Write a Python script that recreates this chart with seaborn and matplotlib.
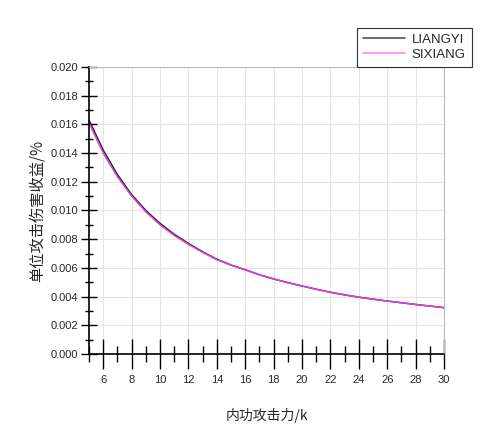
import numpy as np
import pandas as pd
import matplotlib
matplotlib.use('Agg')
import matplotlib.pyplot as plt
from matplotlib.ticker import MultipleLocator, FormatStrFormatter
import seaborn as sns


# values
attack = list(range(5, 31))
liangyi = [0.01630, 0.01420, 0.01250, 0.01110, 0.01000, 0.00910, 0.00834, 0.00770, 0.00712,
           0.00660, 0.00620, 0.00587, 0.00552, 0.00523, 0.00497, 0.00474, 0.00451, 0.00430,
           0.00412, 0.00396, 0.00382, 0.00369, 0.00357, 0.00345, 0.00334, 0.00323]
sixiang = [0.01610, 0.01400, 0.01235, 0.01100, 0.00990, 0.00900, 0.00826, 0.00764, 0.00708,
           0.00657, 0.00619, 0.00586, 0.00552, 0.00523, 0.00497, 0.00474, 0.00451, 0.00430,
           0.00412, 0.00396, 0.00382, 0.00369, 0.00357, 0.00345, 0.00334, 0.00323]
names = ['LIANGYI', 'SIXIANG']
colors = ['#222222', '#e040e0']

XLABEL = '内功攻击力/k'
YLABEL = '单位攻击伤害收益/%'


df = pd.DataFrame({'x': attack * 2,
                   'y': liangyi + sixiang,
                   'series': [names[0]] * len(attack) + [names[1]] * len(attack)})

sns.set_style('white')
plt.rcParams['font.family'] = ['Liberation Sans', 'Noto Sans CJK SC', 'DejaVu Sans']
plt.rcParams['xtick.minor.visible'] = True
plt.rcParams['ytick.minor.visible'] = True

fig = plt.figure(figsize = (5, 4.26), dpi = 100)
ax = fig.add_axes([0.178, 0.169, 0.71, 0.674])

sns.lineplot(data = df, x = 'x', y = 'y', hue = 'series', palette = colors,
             linewidth = 1.1, ax = ax, legend = False)

ax.set_xlim(5, 30)
ax.set_ylim(0, 0.020)
ax.set_xticks(range(6, 31, 2))
ax.set_xticks(range(5, 31), minor = True)
ax.yaxis.set_major_locator(MultipleLocator(0.002))
ax.yaxis.set_minor_locator(MultipleLocator(0.001))
ax.yaxis.set_major_formatter(FormatStrFormatter('%.3f'))

ax.grid(True, which = 'major', color = '#e4e4e4', linewidth = 0.8)
ax.grid(False, which = 'minor')
ax.tick_params(axis = 'x', which = 'major', direction = 'inout', length = 22, width = 1,
               labelsize = 8, pad = 4, bottom = True, color = 'black')
ax.tick_params(axis = 'x', which = 'minor', direction = 'inout', length = 12, width = 1,
               bottom = True, color = 'black')
ax.tick_params(axis = 'y', which = 'major', direction = 'inout', length = 12, width = 1,
               labelsize = 8, pad = 2, left = True, color = 'black')
ax.tick_params(axis = 'y', which = 'minor', direction = 'inout', length = 6, width = 1,
               left = True, color = 'black')

for side in ['left', 'bottom']:
	ax.spines[side].set_color('black')
	ax.spines[side].set_linewidth(1.2)
for side in ['top', 'right']:
	ax.spines[side].set_color('#bbbbbb')
	ax.spines[side].set_linewidth(0.8)

ax.set_xlabel(XLABEL, fontsize = 10, family = ['Noto Sans CJK SC'], labelpad = 17)
ax.set_ylabel(YLABEL, fontsize = 11, family = ['Noto Sans CJK SC'], labelpad = 3)

handles = [plt.Line2D([], [], color = c, linewidth = 1.1) for c in ['#444444', '#ff80ff']]
leg = ax.legend(handles, names, loc = 'upper right', bbox_to_anchor = (1.097, 1.16),
                frameon = True, fancybox = False, edgecolor = 'black', fontsize = 9.5,
                handlelength = 3.2, borderpad = 0.45, labelspacing = 0.2, handletextpad = 0.5)
leg.get_frame().set_linewidth(0.8)

fig.savefig('out.png', dpi = 100)
